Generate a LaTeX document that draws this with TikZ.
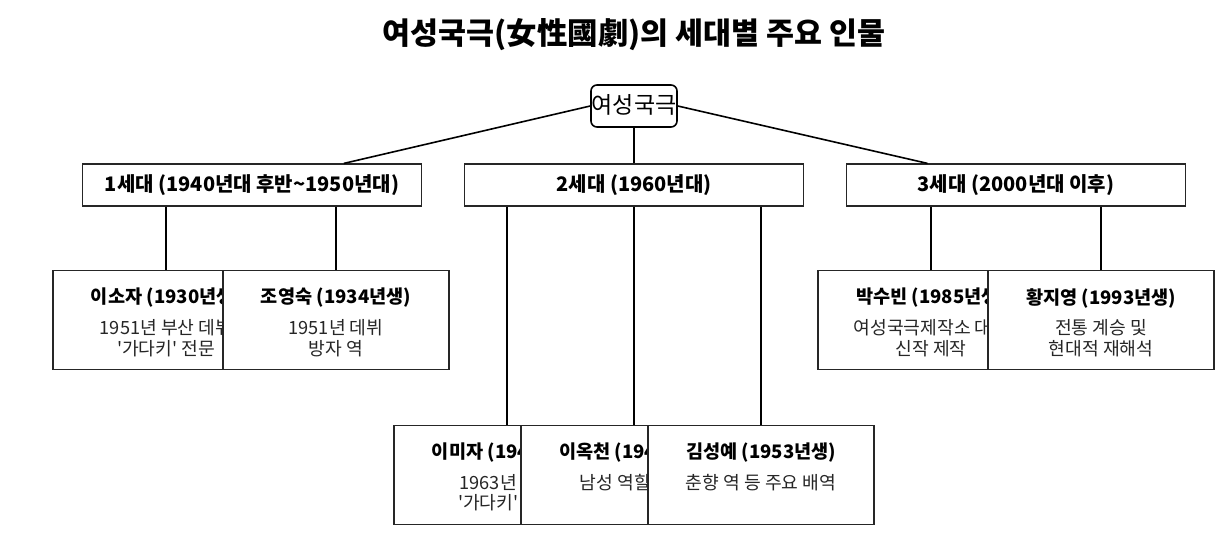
\documentclass[tikz,border=0pt]{standalone}
\usepackage{fontspec}
\setmainfont{Noto Sans CJK KR}
\usetikzlibrary{calc}
\newcommand{\sq}{\textquotesingle}
\tikzset{
  conn/.style={line width=1.6pt, black},
  genbox/.style={draw=black!85, line width=1.2pt, fill=white, minimum width=339pt, minimum height=42pt, inner sep=0pt},
  personbox/.style={draw=black!85, line width=1.2pt, fill=white, minimum width=226pt, minimum height=99pt, inner sep=0pt},
  namet/.style={font=\fontsize{18.6}{20}\selectfont\bfseries, inner sep=0pt},
  desct/.style={font=\fontsize{18.2}{20}\selectfont, inner sep=0pt, text=black!85},
  gent/.style={font=\fontsize{20}{22}\selectfont\bfseries, inner sep=0pt},
}
\begin{document}
\begin{tikzpicture}[x=1pt,y=-1pt]
\useasboundingbox (0,0) rectangle (1224,544);
% title
\node[font=\fontsize{30.4}{34}\selectfont\bfseries, inner sep=0pt] (title) at (634,35) {여성국극(女性國劇)의 세대별 주요 인물};
% root
\node[draw=black, line width=1.6pt, rounded corners=6pt, minimum width=86pt, minimum height=42pt, inner sep=0pt, fill=white] (root) at (634,106) {};
% generation boxes
\node[genbox] (g1) at (252,185) {};
\node[genbox] (g2) at (634,185) {};
\node[genbox] (g3) at (1016,185) {};
% person box anchors
\coordinate (c11) at (166,270);
\coordinate (c12) at (336,270);
\coordinate (c21) at (507,425);
\coordinate (c22) at (634,425);
\coordinate (c23) at (761,425);
\coordinate (c31) at (931,270);
\coordinate (c32) at (1101,270);
% connectors
\draw[conn] (root.west) -- ($(g1.north west)!0.77!(g1.north east)$);
\draw[conn] (root.south) -- (g2.north);
\draw[conn] (root.east) -- ($(g3.north west)!0.24!(g3.north east)$);
\draw[conn, line width=1.2pt] (g1.south -| c11) -- (c11);
\draw[conn, line width=1.2pt] (g1.south -| c12) -- (c12);
\draw[conn, line width=1.2pt] (g2.south -| c21) -- (c21);
\draw[conn, line width=1.2pt] (g2.south -| c22) -- (c22);
\draw[conn, line width=1.2pt] (g2.south -| c23) -- (c23);
\draw[conn, line width=1.2pt] (g3.south -| c31) -- (c31);
\draw[conn, line width=1.2pt] (g3.south -| c32) -- (c32);
% root text (over lines)
\node[font=\fontsize{23}{25}\selectfont, inner sep=0pt] (roott) at (634,105) {여성국극};
% generation labels
\node[gent] (g1t) at (g1) {1세대 (1940년대 후반\textasciitilde 1950년대)};
\node[gent] (g2t) at (g2) {2세대 (1960년대)};
\node[gent] (g3t) at (g3) {3세대 (2000년대 이후)};
% generation 1
\node[personbox, anchor=north] (p11) at (c11) {};
\node[namet] (p11n) at ($(p11.north)+(0,28)$) {이소자 (1930년생)};
\node[desct] (p11a) at ($(p11.north)+(0,58)$) {1951년 부산 데뷔};
\node[desct] (p11b) at ($(p11.north)+(0,79)$) {\sq 가다키\sq{} 전문};
\node[personbox, anchor=north] (p12) at (c12) {};
\node[namet] (p12n) at ($(p12.north)+(0,28)$) {조영숙 (1934년생)};
\node[desct] (p12a) at ($(p12.north)+(0,58)$) {1951년 데뷔};
\node[desct] (p12b) at ($(p12.north)+(0,79)$) {방자 역};
% generation 2
\node[personbox, anchor=north] (p21) at (c21) {};
\node[namet] (p21n) at ($(p21.north)+(0,28)$) {이미자 (1941년생)};
\node[desct] (p21a) at ($(p21.north)+(0,58)$) {1963년 데뷔};
\node[desct] (p21b) at ($(p21.north)+(0,78)$) {\sq 가다키\sq{} 전문};
\node[personbox, anchor=north] (p22) at (c22) {};
\node[namet] (p22n) at ($(p22.north)+(0,28)$) {이옥천 (1940년생)};
\node[desct] (p22a) at ($(p22.north)+(0,58)$) {남성 역할 전문};
\node[personbox, anchor=north] (p23) at (c23) {};
\node[namet] (p23n) at ($(p23.north)+(0,28)$) {김성예 (1953년생)};
\node[desct] (p23a) at ($(p23.north)+(0,58)$) {춘향 역 등 주요 배역};
% generation 3
\node[personbox, anchor=north] (p31) at (c31) {};
\node[namet] (p31n) at ($(p31.north)+(0,28)$) {박수빈 (1985년생)};
\node[desct] (p31a) at ($(p31.north)+(0,58)$) {여성국극제작소 대표};
\node[desct] (p31b) at ($(p31.north)+(0,79)$) {신작 제작};
\node[personbox, anchor=north] (p32) at (c32) {};
\node[namet] (p32n) at ($(p32.north)+(0,28)$) {황지영 (1993년생)};
\node[desct] (p32a) at ($(p32.north)+(0,58)$) {전통 계승 및};
\node[desct] (p32b) at ($(p32.north)+(0,79)$) {현대적 재해석};
\end{tikzpicture}
\end{document}
